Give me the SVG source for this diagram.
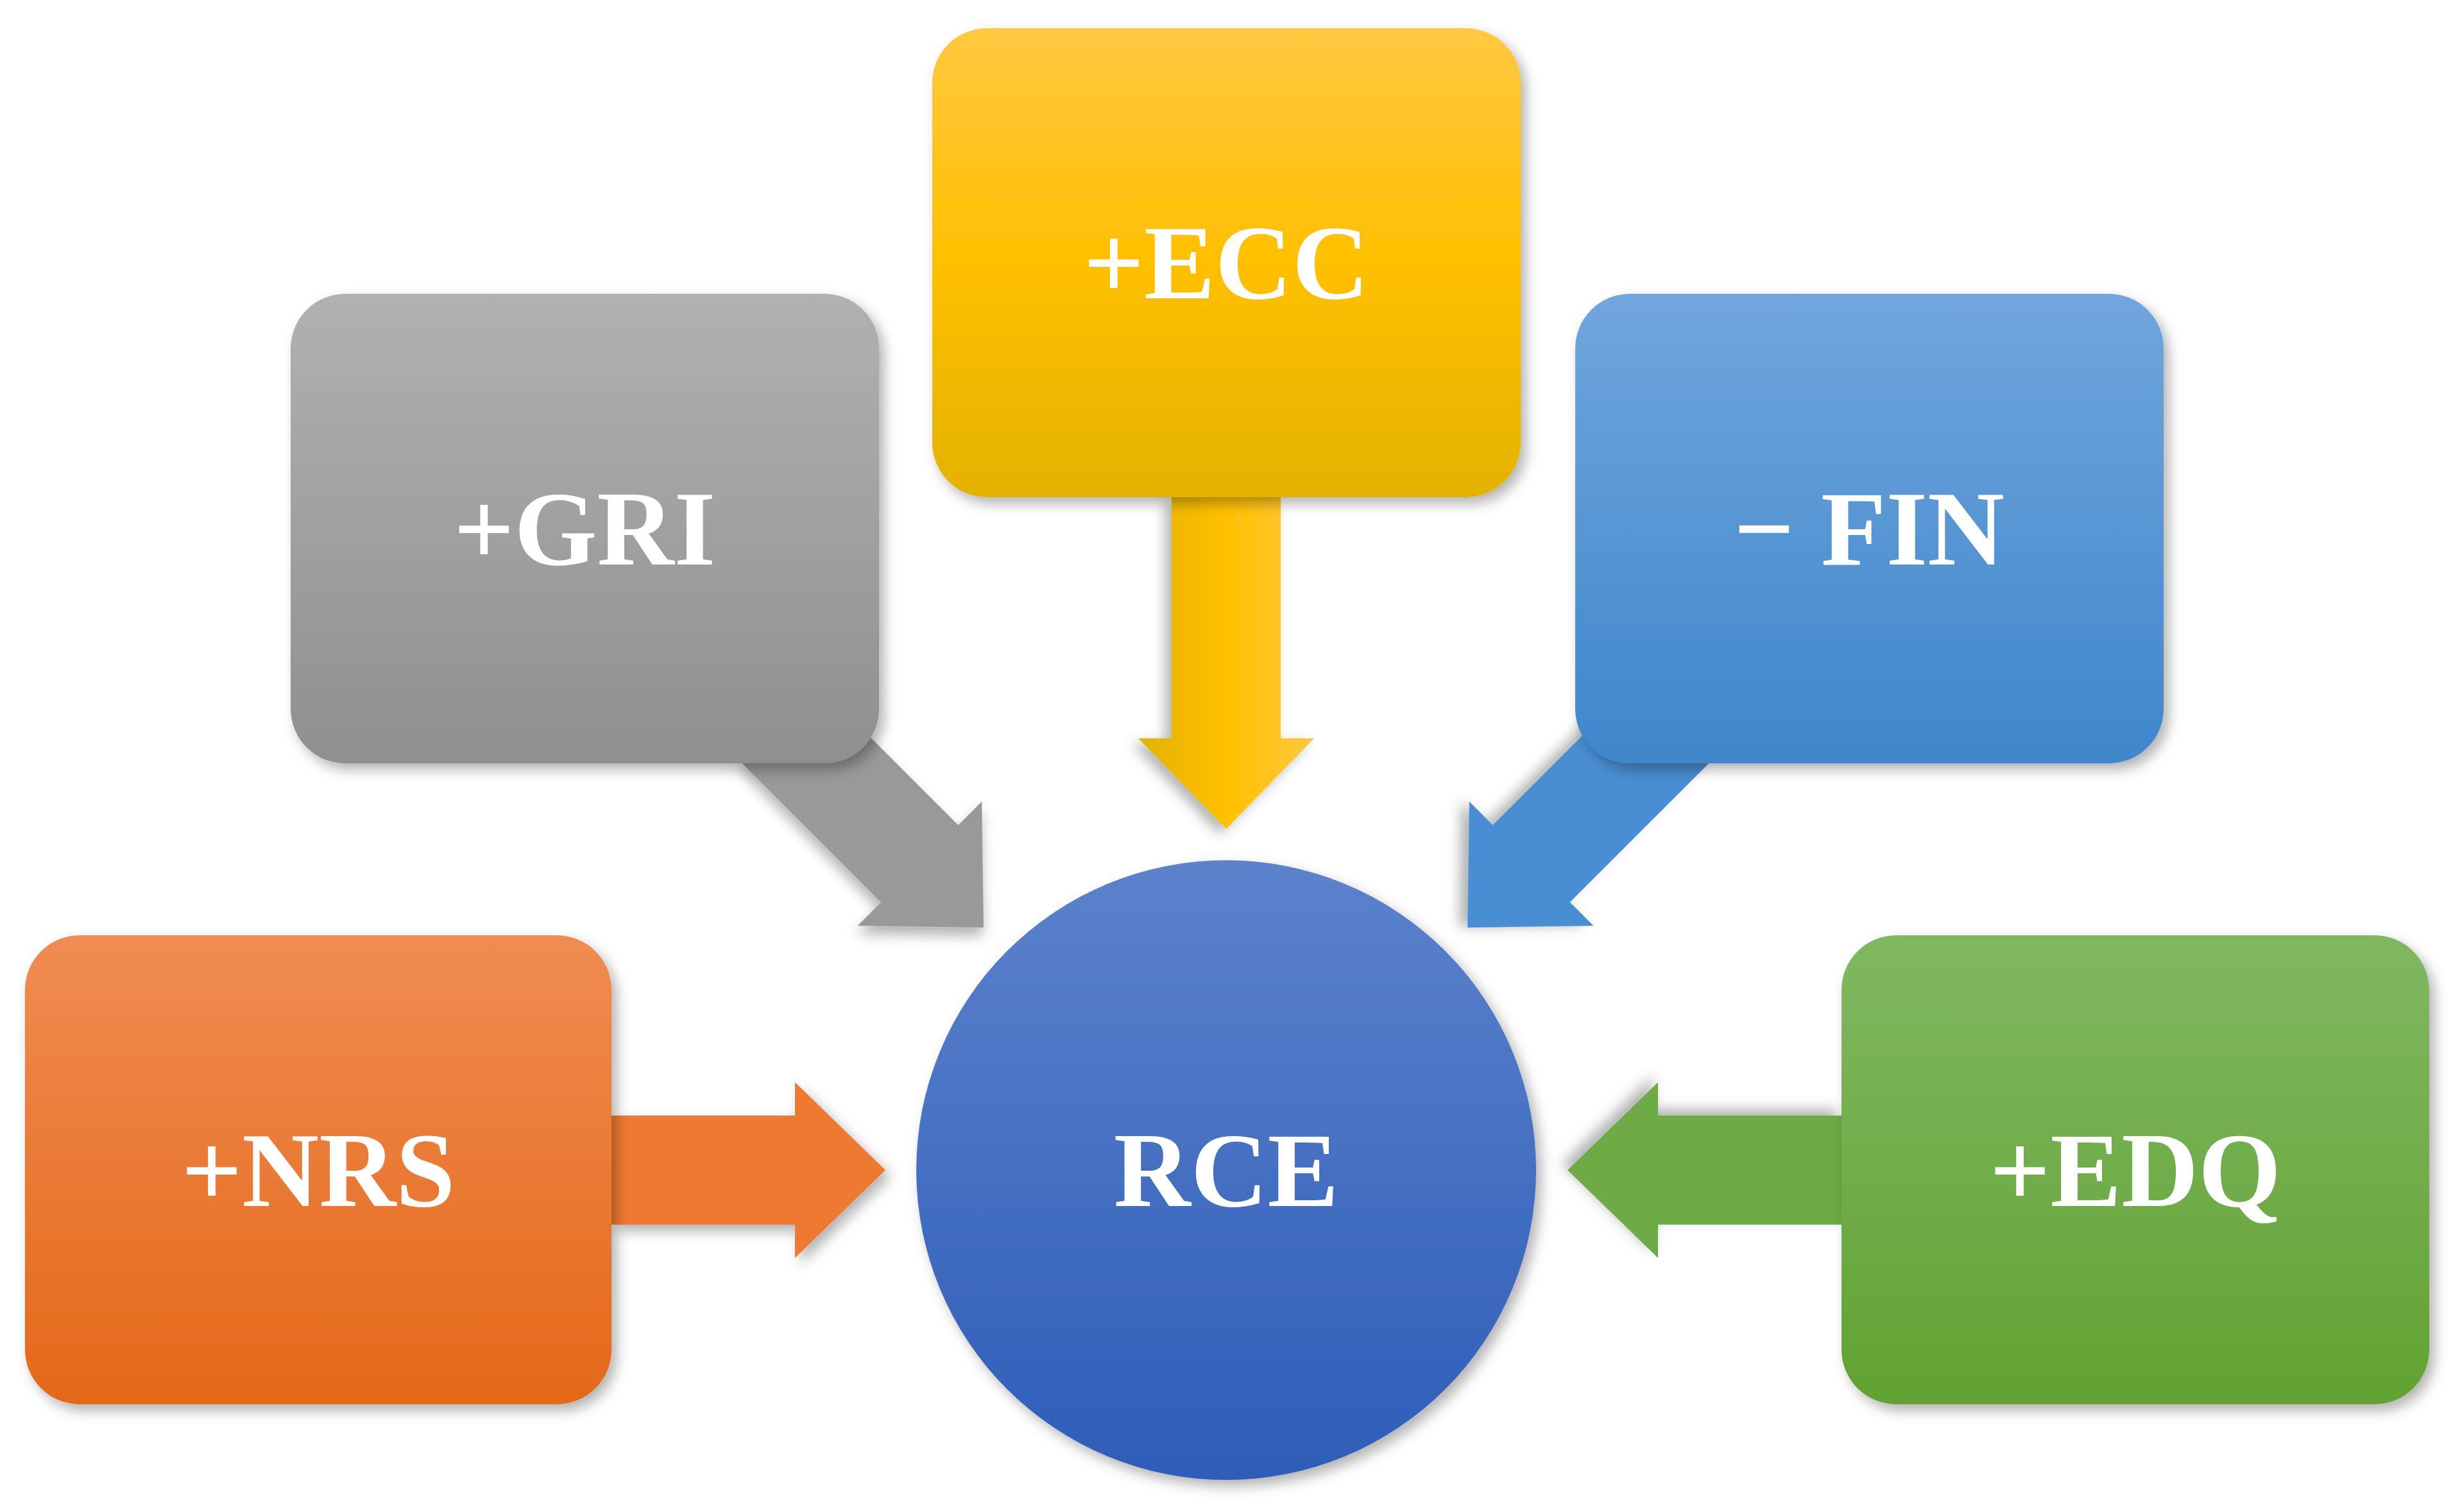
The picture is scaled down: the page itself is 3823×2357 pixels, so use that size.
<svg xmlns="http://www.w3.org/2000/svg" width="3823" height="2357" viewBox="0 0 3823 2357">
<style>
.t{font-family:"Liberation Serif","Times New Roman",serif;font-weight:bold;font-size:166px;fill:#fff;text-anchor:middle}
</style>
<defs>
<filter id="sh" x="-10%" y="-10%" width="130%" height="130%"><feDropShadow dx="8" dy="10" stdDeviation="10" flood-color="#000" flood-opacity="0.3"/></filter>
<linearGradient id="gY" x1="0" y1="0" x2="0" y2="1"><stop offset="0" stop-color="#FFC840"/><stop offset="0.5" stop-color="#FFC000"/><stop offset="1" stop-color="#E3B200"/></linearGradient>
<linearGradient id="gG" x1="0" y1="0" x2="0" y2="1"><stop offset="0" stop-color="#B1B1B1"/><stop offset="1" stop-color="#8F8F8F"/></linearGradient>
<linearGradient id="gB" x1="0" y1="0" x2="0" y2="1"><stop offset="0" stop-color="#70A6DD"/><stop offset="1" stop-color="#3F86CB"/></linearGradient>
<linearGradient id="gO" x1="0" y1="0" x2="0" y2="1"><stop offset="0" stop-color="#F08C52"/><stop offset="1" stop-color="#E46818"/></linearGradient>
<linearGradient id="gGr" x1="0" y1="0" x2="0" y2="1"><stop offset="0" stop-color="#80B862"/><stop offset="1" stop-color="#62A232"/></linearGradient>
<linearGradient id="gC" x1="0" y1="0" x2="0" y2="1"><stop offset="0" stop-color="#5C82CC"/><stop offset="1" stop-color="#2E5DB8"/></linearGradient>
</defs>
<g id="connectors">
<path filter="url(#sh)" fill="url(#gY)" transform="translate(1911,1292) rotate(90)" d="M0,0 L-141,137 L-141,85 L-517,85 L-517,-85 L-141,-85 L-141,-137 Z"/>
<path filter="url(#sh)" fill="#EE7A30" transform="translate(1380,1824)" d="M0,0 L-141,137 L-141,85 L-427,85 L-427,-85 L-141,-85 L-141,-137 Z"/>
<path filter="url(#sh)" fill="#6EAA45" transform="translate(2443,1824) rotate(180)" d="M0,0 L-141,137 L-141,85 L-427,85 L-427,-85 L-141,-85 L-141,-137 Z"/>
<path filter="url(#sh)" fill="#999" transform="translate(1533,1446) rotate(45)" d="M0,0 L-141,137 L-141,85 L-450,85 L-450,-85 L-141,-85 L-141,-137 Z"/>
<path filter="url(#sh)" fill="#4A8ED2" transform="translate(2287,1446) rotate(135)" d="M0,0 L-141,137 L-141,85 L-450,85 L-450,-85 L-141,-85 L-141,-137 Z"/>
</g>
<g id="ECC"><rect filter="url(#sh)" x="1453" y="44" width="917" height="731" rx="85" fill="url(#gY)"/><text class="t" x="1911" y="465">+ECC</text></g>
<g id="GRI"><rect filter="url(#sh)" x="453" y="458" width="917" height="732" rx="85" fill="url(#gG)"/><text class="t" x="911" y="880">+GRI</text></g>
<g id="FIN"><rect filter="url(#sh)" x="2455" y="458" width="917" height="732" rx="85" fill="url(#gB)"/><text class="t" x="2913" y="880">− FIN</text></g>
<g id="NRS"><rect filter="url(#sh)" x="39" y="1458" width="914" height="731" rx="85" fill="url(#gO)"/><text class="t" x="496" y="1880">+NRS</text></g>
<g id="EDQ"><rect filter="url(#sh)" x="2870" y="1458" width="916" height="731" rx="85" fill="url(#gGr)"/><text class="t" x="3328" y="1880">+EDQ</text></g>
<g id="RCE"><circle filter="url(#sh)" cx="1911" cy="1824" r="483" fill="url(#gC)"/><text class="t" x="1911" y="1880">RCE</text></g>
</svg>
